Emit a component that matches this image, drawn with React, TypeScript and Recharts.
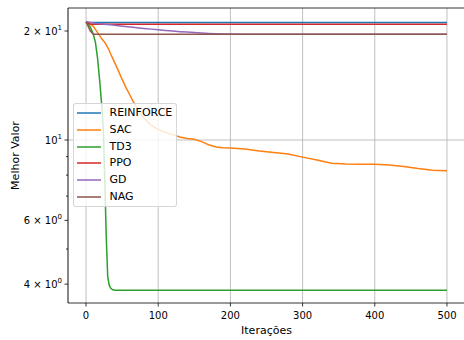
import React from "react";
import {
  LineChart,
  Line,
  XAxis,
  YAxis,
  CartesianGrid,
  ReferenceLine,
} from "recharts";

const iterations = [
  0, 3, 6, 10, 13, 16, 19, 22, 24, 26, 28, 30, 32, 34, 37, 40, 45, 50, 55, 60,
  65, 70, 80, 90, 100, 110, 120, 130, 140, 150, 160, 170, 180, 190, 200, 220,
  240, 260, 280, 300, 320, 340, 360, 380, 400, 420, 440, 460, 480, 500,
];

const reinforce = [
  21.2, 21.15, 21.12, 21.12, 21.12, 21.12, 21.12, 21.12, 21.12, 21.12, 21.12,
  21.12, 21.12, 21.12, 21.12, 21.12, 21.12, 21.12, 21.12, 21.12, 21.12, 21.12,
  21.12, 21.12, 21.12, 21.12, 21.12, 21.12, 21.12, 21.12, 21.12, 21.12, 21.12,
  21.12, 21.12, 21.12, 21.12, 21.12, 21.12, 21.12, 21.12, 21.12, 21.12, 21.12,
  21.12, 21.12, 21.12, 21.12, 21.12, 21.12,
];

const sac = [
  21.2, 21.1, 20.9, 20.6, 20.2, 19.8, 19.4, 19.0, 18.8, 18.6, 18.3, 18.0, 17.7,
  17.3, 16.8, 16.3, 15.5, 14.7, 14.0, 13.4, 12.8, 12.3, 11.5, 11.0, 10.7, 10.5,
  10.35, 10.2, 10.1, 10.05, 9.9, 9.7, 9.57, 9.52, 9.5, 9.44, 9.32, 9.24, 9.15,
  8.97, 8.81, 8.63, 8.58, 8.57, 8.57, 8.53, 8.45, 8.34, 8.25, 8.22,
];

const td3 = [
  21.2, 20.9, 20.5, 19.6, 18.6, 16.8, 14.5, 12.3, 10.6, 7.7, 5.4, 4.2, 3.98,
  3.9, 3.86, 3.85, 3.85, 3.85, 3.85, 3.85, 3.85, 3.85, 3.85, 3.85, 3.85, 3.85,
  3.85, 3.85, 3.85, 3.85, 3.85, 3.85, 3.85, 3.85, 3.85, 3.85, 3.85, 3.85, 3.85,
  3.85, 3.85, 3.85, 3.85, 3.85, 3.85, 3.85, 3.85, 3.85, 3.85, 3.85,
];

const ppo = [
  21.2, 21.0, 20.9, 20.88, 20.88, 20.88, 20.88, 20.88, 20.88, 20.88, 20.88,
  20.88, 20.88, 20.88, 20.88, 20.88, 20.88, 20.88, 20.88, 20.88, 20.88, 20.88,
  20.88, 20.88, 20.88, 20.88, 20.88, 20.88, 20.88, 20.88, 20.88, 20.88, 20.88,
  20.88, 20.88, 20.88, 20.88, 20.88, 20.88, 20.88, 20.88, 20.88, 20.88, 20.88,
  20.88, 20.88, 20.88, 20.88, 20.88, 20.88,
];

const gd = [
  21.2, 21.15, 21.1, 21.05, 21.0, 20.98, 20.95, 20.92, 20.9, 20.88, 20.86,
  20.84, 20.82, 20.8, 20.77, 20.74, 20.68, 20.62, 20.57, 20.52, 20.47, 20.42,
  20.33, 20.24, 20.15, 20.07, 19.99, 19.92, 19.86, 19.8, 19.75, 19.7, 19.66,
  19.63, 19.61, 19.6, 19.6, 19.6, 19.6, 19.6, 19.6, 19.6, 19.6, 19.6, 19.6,
  19.6, 19.6, 19.6, 19.6, 19.6,
];

const nag = [
  21.2, 20.6, 20.0, 19.6, 19.6, 19.6, 19.6, 19.6, 19.6, 19.6, 19.6, 19.6, 19.6,
  19.6, 19.6, 19.6, 19.6, 19.6, 19.6, 19.6, 19.6, 19.6, 19.6, 19.6, 19.6, 19.6,
  19.6, 19.6, 19.6, 19.6, 19.6, 19.6, 19.6, 19.6, 19.6, 19.6, 19.6, 19.6, 19.6,
  19.6, 19.6, 19.6, 19.6, 19.6, 19.6, 19.6, 19.6, 19.6, 19.6, 19.6,
];

const seriesNames = ["REINFORCE", "SAC", "TD3", "PPO", "GD", "NAG"];
const seriesValues = [reinforce, sac, td3, ppo, gd, nag];
const seriesColors = ["#1f77b4", "#ff7f0e", "#2ca02c", "#d62728", "#9467bd", "#8c564b"];

const xTicks = [0, 100, 200, 300, 400, 500];
const yTicks = [4, 5, 6, 7, 8, 9, 10, 20];
const yLabels: Record<number, [string, string]> = {
  4: ["4 × 10", "0"],
  6: ["6 × 10", "0"],
  10: ["10", "1"],
  20: ["2 × 10", "1"],
};

const X_DOMAIN: [number, number] = [-25, 525];
const Y_DOMAIN: [number, number] = [3.548, 23.15];

const data = iterations.map((it, i) => {
  const row: Record<string, number> = { iter: it };
  seriesNames.forEach((n, k) => {
    row[n] = seriesValues[k][i];
  });
  return row;
});

const FONT = "DejaVu Sans, sans-serif";

const YTick = (props: any) => {
  const { x, y, payload } = props;
  const v = payload.value;
  const lbl = yLabels[v];
  const len = lbl ? 3.5 : 2;
  return (
    <g>
      <line x1={x - len} x2={x} y1={y} y2={y} stroke="#000" strokeWidth={0.8} />
      {lbl && (
        <text x={x - 6} y={y + 3.5} textAnchor="end" fontFamily={FONT} fontSize={10} fill="#000">
          {lbl[0]}
          <tspan dy={-4.5} fontSize={7}>
            {lbl[1]}
          </tspan>
        </text>
      )}
    </g>
  );
};

const XTick = (props: any) => {
  const { x, y, payload } = props;
  return (
    <g>
      <line x1={x} x2={x} y1={y} y2={y + 3.5} stroke="#000" strokeWidth={0.8} />
      <text x={x} y={y + 16} textAnchor="middle" fontFamily={FONT} fontSize={10} fill="#000">
        {payload.value}
      </text>
    </g>
  );
};

const LegendBox = () => (
  <div
    style={{
      position: "absolute",
      left: 73,
      top: 103,
      boxSizing: "border-box",
      width: 104,
      height: 104,
      background: "rgba(255,255,255,0.8)",
      border: "1px solid rgba(204,204,204,0.8)",
      borderRadius: 3,
      paddingTop: 1,
      fontFamily: FONT,
      fontSize: 11,
      color: "#000",
    }}
  >
    {seriesNames.map((n, k) => (
      <div key={n} style={{ display: "flex", alignItems: "center", height: 16.67 }}>
        <svg width={24} height={6} style={{ marginLeft: 3, display: "block" }}>
          <line x1={0} x2={24} y1={3} y2={3} stroke={seriesColors[k]} strokeWidth={1.5} />
        </svg>
        <span style={{ marginLeft: 8.5, lineHeight: "16px" }}>{n}</span>
      </div>
    ))}
  </div>
);

export default function App() {
  return (
    <div
      style={{
        position: "absolute",
        left: 0,
        top: 0,
        width: 464,
        height: 340,
        overflow: "hidden",
        background: "#fff",
      }}
    >
      <LineChart
        width={470}
        height={340}
        data={data}
        margin={{ top: 8, right: 5, bottom: 0, left: 0 }}
      >
        <CartesianGrid horizontal={false} stroke="#b0b0b0" strokeWidth={0.8} />
        <ReferenceLine y={10} stroke="#b0b0b0" strokeWidth={0.8} />
        <XAxis
          dataKey="iter"
          type="number"
          domain={X_DOMAIN}
          ticks={xTicks}
          allowDataOverflow
          height={37}
          tickSize={0}
          tickMargin={0}
          tick={<XTick />}
          axisLine={{ stroke: "#000", strokeWidth: 0.8 }}
          tickLine={false}
          label={{
            content: (p: any) => {
              const vb = p.viewBox;
              return (
                <text
                  x={vb.x + vb.width / 2}
                  y={vb.y + 31}
                  textAnchor="middle"
                  fontFamily={FONT}
                  fontSize={11}
                  fill="#000"
                >
                  Iterações
                </text>
              );
            },
          }}
        />
        <YAxis
          type="number"
          scale="log"
          domain={Y_DOMAIN}
          ticks={yTicks}
          allowDataOverflow
          width={68}
          tickSize={0}
          tickMargin={0}
          tick={<YTick />}
          axisLine={{ stroke: "#000", strokeWidth: 0.8 }}
          tickLine={false}
          interval={0}
          label={{
            content: (p: any) => {
              const vb = p.viewBox;
              const cx = vb.x + 15;
              const cy = vb.y + vb.height / 2;
              return (
                <text
                  x={cx}
                  y={cy}
                  transform={`rotate(-90 ${cx} ${cy})`}
                  textAnchor="middle"
                  dominantBaseline="central"
                  fontFamily={FONT}
                  fontSize={11}
                  fill="#000"
                >
                  Melhor Valor
                </text>
              );
            },
          }}
        />
        <ReferenceLine y={Y_DOMAIN[1]} stroke="#000" strokeWidth={0.8} />
        {seriesNames.map((n, k) => (
          <Line
            key={n}
            dataKey={n}
            name={n}
            type="linear"
            stroke={seriesColors[k]}
            strokeWidth={1.5}
            dot={false}
            activeDot={false}
            isAnimationActive={false}
          />
        ))}
      </LineChart>
      <LegendBox />
    </div>
  );
}
